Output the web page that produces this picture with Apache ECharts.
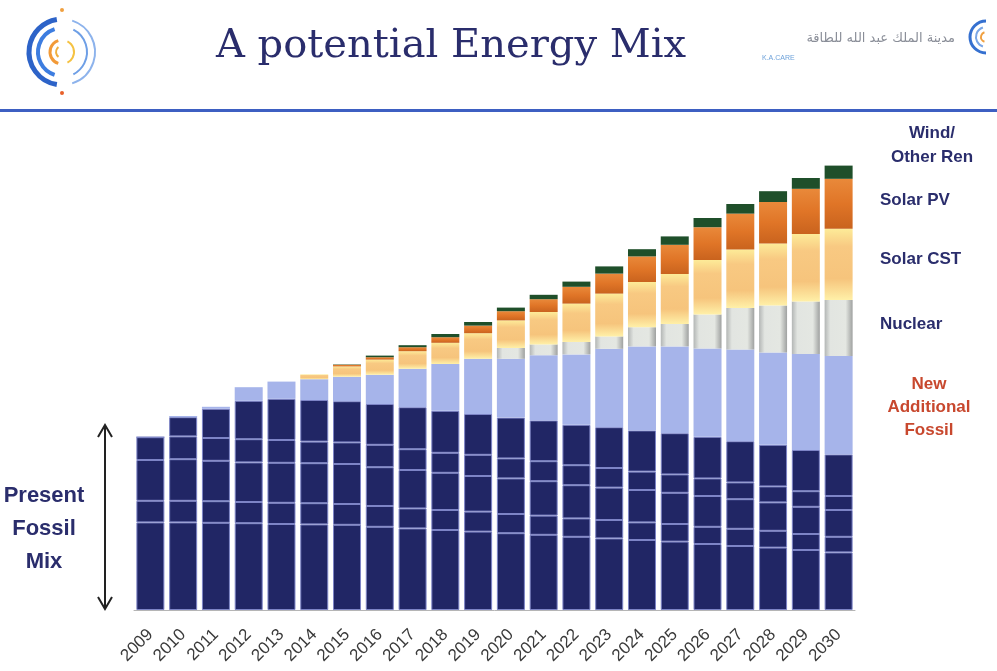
<!DOCTYPE html>
<html>
<head>
<meta charset="utf-8">
<title>A potential Energy Mix</title>
<script src="https://cdn.jsdelivr.net/npm/echarts@6/dist/echarts.min.js"></script>
<style>
    html, body { margin: 0; padding: 0; background: #fff; }
    #energyMix { width: 997px; height: 671px; }
</style>
</head>
<body>
<div id="energyMix"></div>
<script>
var years = ['2009', '2010', '2011', '2012', '2013', '2014', '2015', '2016', '2017', '2018', '2019',
    '2020', '2021', '2022', '2023', '2024', '2025', '2026', '2027', '2028', '2029', '2030'];

// present fossil mix, stacked from the bottom (same colour, split by thin lines)
var fossilLayer1 = [21.9, 21.9, 21.8, 21.7, 21.5, 21.4, 21.3, 20.8, 20.4, 20.0, 19.6, 19.2, 18.8, 18.3, 17.9, 17.5, 17.1, 16.5, 16.0, 15.6, 15.0, 14.4];
var fossilLayer2 = [5.4, 5.4, 5.4, 5.3, 5.3, 5.3, 5.2, 5.2, 5.0, 5.0, 5.0, 4.8, 4.8, 4.6, 4.6, 4.4, 4.4, 4.3, 4.3, 4.2, 4.0, 3.9];
var fossilLayer3 = [10.2, 10.4, 10.1, 9.9, 10.0, 10.0, 10.0, 9.7, 9.6, 9.3, 8.9, 8.9, 8.6, 8.3, 8.1, 8.1, 7.8, 7.7, 7.4, 7.1, 6.8, 6.7];
var fossilLayer4 = [5.7, 5.7, 5.7, 5.8, 5.7, 5.4, 5.4, 5.6, 5.2, 5.0, 5.3, 5.0, 5.0, 5.0, 4.9, 4.6, 4.6, 4.4, 4.2, 4.0, 3.9, 3.5];
var fossilLayer5 = [0, 4.8, 7.3, 9.6, 10.3, 10.4, 10.3, 10.2, 10.5, 10.5, 10.2, 10.2, 10.2, 10.1, 10.2, 10.3, 10.3, 10.4, 10.3, 10.4, 10.3, 10.4];

var newFossil = [0, 0.3, 0.5, 3.4, 4.3, 5.2, 6.1, 7.3, 9.6, 11.7, 13.8, 14.7, 16.3, 17.6, 19.6, 21.0, 21.7, 22.1, 22.9, 23.1, 24.0, 24.6];
var nuclear   = [0, 0, 0, 0, 0, 0, 0, 0, 0, 0, 0, 2.7, 2.7, 3.1, 3.1, 4.8, 5.6, 8.5, 10.4, 11.7, 13.1, 14.0];
var solarCST  = [0, 0, 0, 0, 0, 1.2, 2.6, 3.8, 4.4, 5.3, 6.4, 6.9, 8.1, 9.6, 10.7, 11.3, 12.5, 13.6, 14.6, 15.5, 16.9, 17.8];
var solarPV   = [0, 0, 0, 0, 0, 0, 0.4, 0.6, 1.0, 1.4, 1.9, 2.3, 3.2, 4.2, 5.0, 6.4, 7.3, 8.2, 9.0, 10.4, 11.3, 12.5];
var windOther = [0, 0, 0, 0, 0, 0, 0.1, 0.4, 0.5, 0.8, 0.9, 0.9, 1.1, 1.3, 1.8, 1.8, 2.1, 2.3, 2.4, 2.7, 2.7, 3.3];

var navy = '#2a2d6c';

function fossilSeries(name, data) {
    return {
        name: name,
        type: 'bar',
        stack: 'mix',
        barWidth: 28,
        data: data,
        itemStyle: {
            color: '#212665',
            borderColor: '#7d84c6',
            borderWidth: 1
        }
    };
}

function grad(x2, y2, stops) {
    return {
        type: 'linear', x: 0, y: 0, x2: x2, y2: y2,
        colorStops: stops
    };
}

function label(x, y, text, font, fill, align, lineHeight) {
    return {
        type: 'text', x: x, y: y,
        style: {
            text: text, font: font, fill: fill,
            align: align || 'left', verticalAlign: 'top',
            lineHeight: lineHeight || 20
        }
    };
}

function arc(cx, cy, r, a0, a1, color, w) {
    return {
        type: 'arc',
        shape: { cx: cx, cy: cy, r: r, startAngle: Math.PI * a0, endAngle: Math.PI * a1 },
        style: { stroke: color, lineWidth: w, fill: null }
    };
}

(function () {
    var chart = echarts.init(document.getElementById('energyMix'));

    var option = {
        backgroundColor: '#fff',
        animation: false,
        grid: {
            left: 134,
            right: 142,
            top: 110,
            bottom: 61
        },
        xAxis: {
            type: 'category',
            data: years,
            axisLine: { lineStyle: { color: '#b5b5b5', width: 1 } },
            axisTick: { length: 6, lineStyle: { color: '#b5b5b5' } },
            axisLabel: {
                rotate: 45,
                margin: 22,
                fontSize: 17,
                color: '#3a3a3a',
                fontFamily: 'Liberation Sans'
            }
        },
        yAxis: {
            type: 'value',
            min: 0,
            max: 125,
            show: false
        },
        series: [
            fossilSeries('Present Fossil 1', fossilLayer1),
            fossilSeries('Present Fossil 2', fossilLayer2),
            fossilSeries('Present Fossil 3', fossilLayer3),
            fossilSeries('Present Fossil 4', fossilLayer4),
            fossilSeries('Present Fossil 5', fossilLayer5),
            {
                name: 'New Additional Fossil',
                type: 'bar',
                stack: 'mix',
                data: newFossil,
                itemStyle: { color: '#a6b4ea' }
            },
            {
                name: 'Nuclear',
                type: 'bar',
                stack: 'mix',
                data: nuclear,
                itemStyle: {
                    color: grad(1, 0, [
                        { offset: 0, color: '#b3b6b5' },
                        { offset: 0.2, color: '#e2e5e1' },
                        { offset: 0.75, color: '#e4e7e2' },
                        { offset: 1, color: '#9fa1a0' }
                    ])
                }
            },
            {
                name: 'Solar CST',
                type: 'bar',
                stack: 'mix',
                data: solarCST,
                itemStyle: {
                    color: grad(0, 1, [
                        { offset: 0, color: '#fdeb98' },
                        { offset: 0.25, color: '#f8c982' },
                        { offset: 0.7, color: '#f6c47c' },
                        { offset: 1, color: '#fff0a8' }
                    ])
                }
            },
            {
                name: 'Solar PV',
                type: 'bar',
                stack: 'mix',
                data: solarPV,
                itemStyle: {
                    color: grad(0, 1, [
                        { offset: 0, color: '#e9893a' },
                        { offset: 0.5, color: '#e07527' },
                        { offset: 1, color: '#c9631e' }
                    ])
                }
            },
            {
                name: 'Wind/Other Ren',
                type: 'bar',
                stack: 'mix',
                data: windOther,
                itemStyle: { color: '#1f4f2a' }
            }
        ],
        graphic: [
            // header
            label(451, 24, 'A potential Energy Mix', '40px "DejaVu Serif"', navy, 'center', 46),
            {
                type: 'rect', x: 0, y: 109,
                shape: { width: 997, height: 3 },
                style: { fill: '#3d5fc2' }
            },
            // left logo
            { type: 'circle', shape: { cx: 62, cy: 10, r: 2 }, style: { fill: '#f0a040' } },
            { type: 'circle', shape: { cx: 62, cy: 93, r: 2 }, style: { fill: '#e8602a' } },
            arc(62, 52, 33, 0.55, 1.45, '#2d63c8', 5),
            arc(62, 52, 33, -0.4, 0.4, '#8db3ec', 2),
            arc(62, 52, 24, 0.6, 1.4, '#3d7de0', 4),
            arc(62, 52, 25, -0.35, 0.35, '#6e9fe6', 2),
            arc(62, 52, 12, 0.6, 1.4, '#f29a38', 3),
            arc(62, 52, 12, -0.35, 0.35, '#f5c242', 2),
            arc(62, 52, 6, 0.7, 1.3, '#f0b040', 2),
            // right logo
            arc(986, 37, 16, 0.5, 1.5, '#3570d0', 3),
            arc(986, 37, 10, 0.6, 1.4, '#7aa6e6', 2),
            arc(986, 37, 5, 0.6, 1.4, '#f0a040', 2),
            label(955, 29, 'مدينة الملك عبد الله للطاقة', '13px "DejaVu Sans"', '#8a8e98', 'right'),
            label(762, 48, 'K.A.CARE', '7px "Liberation Sans"', '#6ea2da'),
            // series names on the right
            label(932, 121, 'Wind/\nOther Ren', 'bold 17px "Liberation Sans"', navy, 'center', 24),
            label(880, 190, 'Solar PV', 'bold 17px "Liberation Sans"', navy),
            label(880, 249, 'Solar CST', 'bold 17px "Liberation Sans"', navy),
            label(880, 314, 'Nuclear', 'bold 17px "Liberation Sans"', navy),
            label(929, 373, 'New\nAdditional\nFossil', 'bold 17px "Liberation Sans"', '#c8482e', 'center', 23),
            // present fossil mix note
            label(44, 479, 'Present\nFossil\nMix', 'bold 22px "Liberation Sans"', navy, 'center', 33),
            {
                type: 'line', shape: { x1: 105, y1: 426, x2: 105, y2: 607 },
                style: { stroke: '#222', lineWidth: 2 }
            },
            {
                type: 'polyline', shape: { points: [[98, 437], [105, 425], [112, 437]] },
                style: { stroke: '#222', lineWidth: 2, fill: null }
            },
            {
                type: 'polyline', shape: { points: [[98, 597], [105, 609], [112, 597]] },
                style: { stroke: '#222', lineWidth: 2, fill: null }
            }
        ]
    };

    chart.setOption(option);
})();
</script>
</body>
</html>
